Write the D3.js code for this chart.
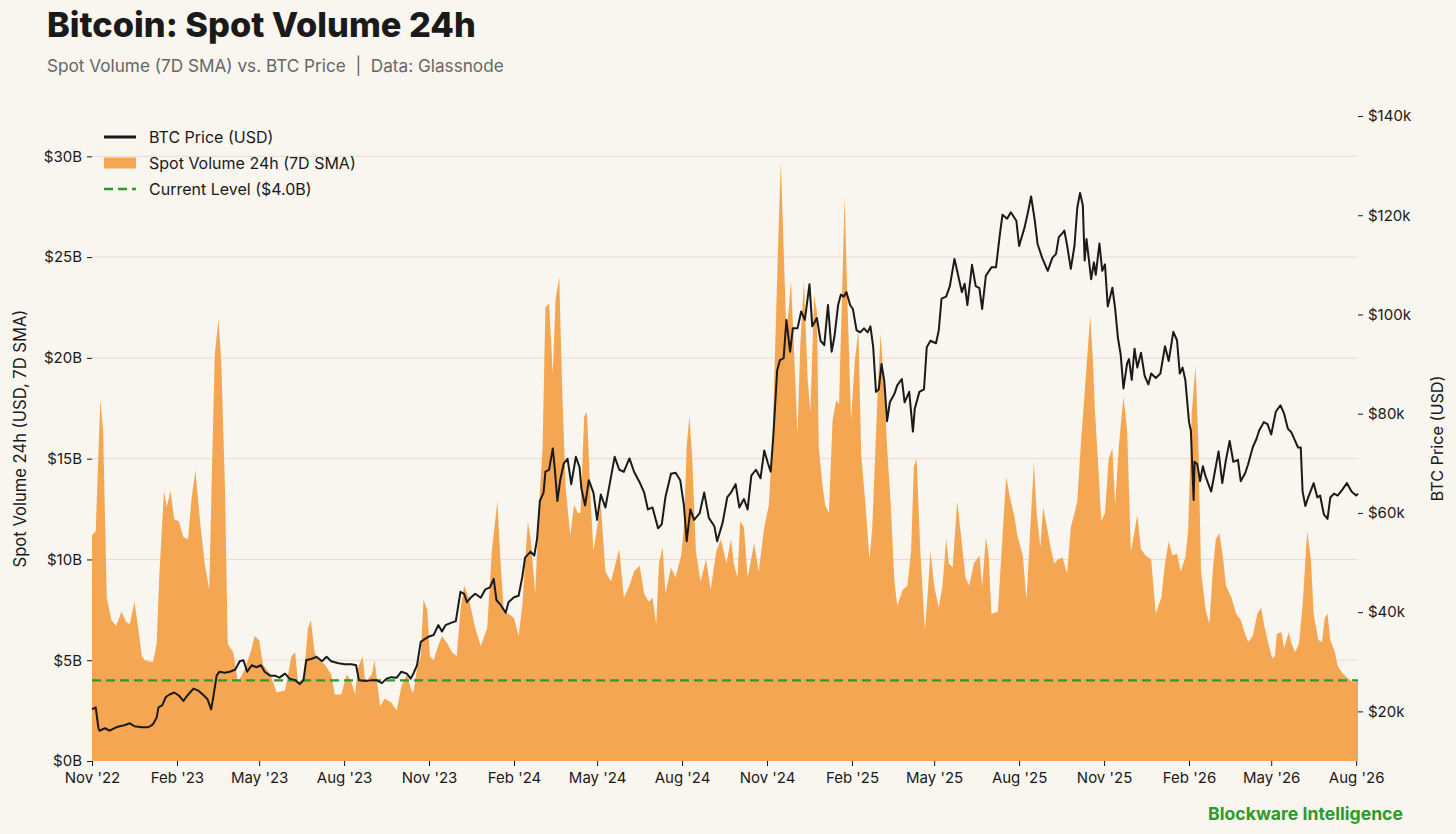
<!DOCTYPE html>
<html>
<head>
<meta charset="utf-8">
<script src="https://cdn.jsdelivr.net/npm/d3@7"></script>
<style>
  body { margin: 0; background: #f9f5ef; }
  svg { display: block; }
  text { font-family: Inter, "Noto Sans", sans-serif; fill: #1a1a1a; }
</style>
</head>
<body>
<svg id="chart"></svg>
<script>
// day offsets are counted from this date
const startDate = "2022-11-01";

// spot volume 24h, 7D SMA, in $B : [day, value]
const volumeSeries = [
  [0, 11.2], [4, 11.4], [9, 17.9], [12, 16.4], [16, 8.1], [21, 7.0], [26, 6.7], [32, 7.4], [37, 6.9], [41, 6.8],
  [46, 7.9], [50, 6.6], [54, 5.2], [57, 5.0], [66, 4.9], [70, 5.8], [73, 9.3], [78, 13.4], [81, 12.6], [85, 13.4],
  [89, 12.0], [94, 11.9], [99, 11.1], [104, 11.0], [108, 13.1], [112, 14.4], [117, 11.9], [122, 9.8], [127, 8.5], [130, 14.6],
  [133, 20.2], [137, 21.9], [140, 19.8], [144, 13.5], [147, 5.8], [153, 5.4], [158, 3.9], [166, 4.6], [173, 5.6], [176, 6.2],
  [181, 6.0], [185, 4.8], [193, 4.3], [200, 3.4], [209, 3.5], [216, 5.2], [220, 5.4], [223, 3.9], [229, 4.1], [234, 6.6],
  [237, 7.0], [241, 5.4], [245, 5.0], [252, 4.8], [259, 4.3], [263, 3.3], [270, 3.3], [276, 4.3], [281, 3.9], [285, 3.3],
  [288, 4.6], [293, 5.2], [296, 3.9], [303, 4.3], [306, 5.0], [312, 2.7], [317, 3.1], [324, 2.9], [330, 2.5], [335, 3.7],
  [341, 4.3], [346, 3.5], [348, 3.4], [352, 4.6], [356, 5.2], [359, 8.0], [363, 7.5], [366, 5.2], [370, 5.0], [374, 5.6],
  [379, 6.2], [385, 5.8], [390, 5.4], [395, 5.2], [399, 7.5], [403, 8.7], [408, 8.1], [415, 6.6], [421, 5.7], [428, 6.6],
  [433, 10.4], [439, 12.9], [442, 10.2], [446, 7.4], [451, 7.3], [457, 7.1], [462, 6.2], [466, 7.7], [472, 11.9], [475, 11.0],
  [480, 8.3], [484, 12.5], [488, 15.6], [491, 22.5], [495, 22.7], [499, 19.2], [502, 22.9], [506, 24.0], [509, 18.7], [513, 13.5],
  [518, 11.2], [522, 12.7], [526, 12.3], [529, 12.3], [533, 17.1], [536, 17.3], [540, 12.9], [543, 10.4], [547, 11.6], [551, 12.7],
  [556, 9.4], [562, 8.9], [567, 9.8], [571, 10.5], [576, 8.1], [582, 8.7], [587, 9.4], [593, 9.7], [598, 8.3], [603, 7.9],
  [607, 8.1], [611, 6.8], [614, 9.8], [618, 10.6], [621, 8.3], [627, 9.6], [632, 9.1], [638, 10.2], [641, 11.6], [644, 15.6],
  [647, 17.1], [650, 15.0], [654, 10.4], [659, 8.9], [665, 10.0], [670, 8.5], [676, 10.4], [681, 11.0], [687, 9.8], [692, 11.0],
  [695, 9.8], [699, 9.1], [702, 11.9], [706, 11.6], [710, 9.1], [713, 9.8], [717, 10.8], [722, 9.4], [728, 11.6], [733, 12.7],
  [737, 16.0], [740, 20.8], [744, 27.1], [746, 29.7], [749, 25.4], [752, 21.2], [755, 22.7], [757, 23.8], [760, 20.6], [764, 16.2],
  [767, 20.6], [771, 23.8], [775, 18.9], [778, 17.3], [782, 23.1], [785, 22.3], [787, 15.6], [791, 13.7], [794, 12.7], [798, 12.3],
  [802, 16.9], [806, 17.9], [809, 17.7], [813, 24.4], [815, 28.0], [818, 22.9], [822, 16.9], [826, 19.8], [830, 21.4], [833, 15.2],
  [838, 12.5], [842, 10.0], [845, 11.6], [851, 18.5], [854, 21.2], [858, 18.5], [861, 15.6], [865, 12.7], [869, 8.9], [872, 7.7],
  [878, 8.5], [883, 8.7], [887, 10.4], [890, 14.6], [893, 15.0], [897, 10.4], [902, 6.5], [905, 8.3], [908, 10.4], [912, 8.7],
  [917, 7.6], [921, 8.7], [925, 11.0], [928, 9.8], [932, 9.6], [937, 12.9], [941, 11.2], [946, 9.1], [950, 8.7], [955, 9.8],
  [961, 10.2], [964, 8.7], [968, 11.1], [971, 10.2], [974, 7.3], [981, 7.4], [985, 10.4], [990, 14.1], [994, 13.1], [999, 12.1],
  [1002, 11.2], [1008, 10.2], [1012, 8.0], [1016, 11.4], [1020, 14.8], [1023, 12.3], [1027, 10.6], [1030, 12.6], [1035, 11.4], [1038, 10.6],
  [1042, 9.8], [1046, 10.0], [1051, 10.1], [1056, 9.3], [1060, 11.6], [1064, 12.3], [1067, 12.9], [1071, 15.8], [1076, 18.9], [1081, 22.1],
  [1084, 19.8], [1086, 17.5], [1090, 14.4], [1093, 11.9], [1097, 12.3], [1101, 15.0], [1105, 15.5], [1108, 12.7], [1112, 15.6], [1117, 18.1],
  [1121, 16.4], [1125, 10.4], [1129, 11.4], [1132, 12.2], [1136, 10.5], [1141, 10.2], [1147, 10.0], [1152, 7.3], [1158, 8.1], [1162, 9.8],
  [1166, 10.9], [1170, 10.2], [1175, 10.3], [1179, 9.4], [1184, 10.1], [1187, 11.4], [1191, 17.3], [1195, 19.6], [1198, 16.0], [1201, 9.4],
  [1206, 7.5], [1210, 6.8], [1214, 9.6], [1217, 11.0], [1221, 11.3], [1225, 10.0], [1228, 8.7], [1234, 8.1], [1239, 7.3], [1244, 7.0],
  [1248, 6.4], [1252, 5.9], [1257, 6.2], [1262, 7.3], [1266, 7.6], [1270, 6.6], [1273, 6.0], [1278, 5.1], [1281, 5.2], [1283, 6.3],
  [1288, 6.4], [1291, 5.6], [1296, 6.4], [1299, 5.8], [1303, 5.4], [1307, 5.8], [1311, 7.7], [1316, 11.4], [1320, 10.0], [1323, 7.3],
  [1328, 6.0], [1332, 5.9], [1335, 7.1], [1338, 7.3], [1341, 6.0], [1346, 5.4], [1349, 4.7], [1355, 4.3], [1360, 4.1], [1366, 3.9],
  [1371, 4.0]
];

// BTC price in $k : [day, value]
const priceSeries = [
  [0, 20.4], [4, 20.8], [7, 16.6], [8, 16.1], [14, 16.6], [19, 16.1], [25, 16.7], [30, 17.0], [35, 17.2], [41, 17.6],
  [46, 17.0], [54, 16.8], [61, 16.8], [66, 17.4], [70, 18.7], [72, 20.8], [76, 21.2], [80, 22.9], [84, 23.4], [89, 23.8],
  [94, 23.2], [99, 22.1], [102, 22.9], [106, 23.8], [110, 24.6], [115, 24.2], [120, 23.4], [125, 22.5], [129, 20.4], [131, 22.5],
  [135, 27.2], [138, 28.0], [144, 27.8], [149, 28.0], [155, 28.4], [160, 30.1], [164, 30.3], [168, 28.0], [173, 29.3], [178, 28.9],
  [183, 29.3], [187, 28.0], [193, 27.2], [198, 27.2], [203, 26.8], [209, 27.6], [214, 26.6], [220, 26.3], [225, 25.5], [229, 26.3],
  [232, 30.3], [238, 30.6], [243, 31.0], [249, 30.1], [254, 31.0], [259, 30.1], [267, 29.7], [274, 29.5], [281, 29.5], [286, 29.3],
  [289, 26.3], [296, 26.1], [303, 26.3], [308, 26.3], [314, 25.7], [319, 26.6], [324, 26.9], [330, 26.8], [335, 28.0], [341, 27.6],
  [345, 26.6], [348, 27.6], [352, 29.3], [356, 34.0], [359, 34.4], [365, 35.1], [370, 35.4], [375, 37.4], [379, 36.1], [383, 37.4],
  [388, 37.8], [394, 38.2], [399, 44.1], [403, 43.7], [406, 42.0], [410, 42.9], [415, 43.7], [421, 42.9], [426, 44.6], [431, 45.0],
  [435, 46.7], [438, 42.4], [442, 41.6], [448, 39.9], [451, 42.0], [457, 43.0], [462, 43.3], [466, 47.1], [469, 51.0], [475, 52.2],
  [479, 51.4], [482, 54.8], [485, 62.4], [489, 64.1], [491, 68.3], [495, 68.7], [499, 73.0], [501, 69.2], [504, 62.4], [507, 66.6],
  [511, 70.0], [515, 70.9], [519, 65.8], [524, 71.3], [528, 69.2], [530, 64.9], [534, 61.5], [538, 66.6], [543, 64.1], [547, 58.6],
  [551, 63.7], [556, 61.1], [561, 66.2], [566, 71.3], [571, 68.7], [576, 68.3], [582, 71.0], [587, 68.3], [593, 66.2], [598, 64.1],
  [602, 60.7], [607, 61.1], [613, 56.9], [617, 57.7], [621, 63.2], [627, 67.9], [632, 68.1], [637, 66.6], [641, 61.5], [644, 54.3],
  [648, 60.7], [652, 58.6], [658, 59.9], [663, 64.1], [668, 59.0], [674, 57.3], [677, 54.3], [683, 58.1], [688, 63.2], [692, 64.1],
  [697, 65.8], [701, 61.1], [706, 62.8], [710, 60.7], [714, 67.5], [719, 68.7], [724, 67.0], [728, 72.6], [732, 70.0], [735, 68.3],
  [738, 76.0], [742, 88.7], [745, 90.8], [749, 91.2], [752, 98.9], [756, 92.5], [759, 97.2], [764, 97.2], [768, 100.6], [772, 98.9],
  [777, 106.1], [780, 97.6], [785, 99.3], [789, 94.7], [793, 93.8], [797, 101.9], [801, 92.5], [804, 95.5], [808, 101.9], [811, 104.0],
  [814, 103.6], [817, 104.5], [821, 101.9], [824, 101.1], [828, 96.8], [832, 96.4], [836, 97.2], [840, 96.4], [843, 97.6], [846, 93.4],
  [849, 84.4], [852, 84.9], [855, 90.0], [858, 86.6], [861, 78.5], [864, 82.3], [869, 84.0], [872, 85.7], [877, 87.0], [880, 82.3],
  [885, 84.4], [889, 76.4], [891, 81.0], [896, 84.4], [901, 84.9], [904, 93.4], [908, 94.7], [914, 94.2], [917, 96.8], [920, 103.2],
  [925, 103.6], [929, 105.7], [934, 111.2], [937, 108.7], [942, 104.5], [945, 106.2], [948, 101.9], [953, 110.0], [957, 105.7], [961, 105.3],
  [964, 101.1], [968, 107.8], [974, 109.5], [979, 109.5], [983, 115.9], [986, 120.1], [991, 119.3], [995, 120.6], [1001, 118.9], [1004, 113.8],
  [1010, 117.6], [1013, 120.1], [1017, 123.8], [1021, 118.9], [1024, 114.2], [1029, 111.4], [1035, 108.8], [1040, 111.4], [1044, 112.2], [1047, 115.6],
  [1051, 116.4], [1053, 116.9], [1056, 113.9], [1060, 109.2], [1064, 113.9], [1067, 121.5], [1070, 124.5], [1073, 122.0], [1075, 110.9], [1077, 115.2],
  [1082, 107.1], [1085, 110.5], [1087, 108.0], [1091, 114.3], [1094, 108.8], [1097, 110.1], [1100, 101.6], [1105, 105.4], [1108, 101.2], [1111, 95.3],
  [1114, 91.9], [1117, 85.1], [1121, 90.2], [1123, 91.0], [1126, 86.8], [1129, 93.1], [1132, 89.3], [1136, 92.3], [1140, 87.6], [1144, 85.9],
  [1147, 88.1], [1152, 87.2], [1157, 88.1], [1162, 93.6], [1166, 90.6], [1171, 96.5], [1175, 94.8], [1178, 88.1], [1181, 89.3], [1184, 86.8],
  [1188, 78.3], [1190, 76.6], [1193, 62.6], [1194, 70.3], [1197, 69.8], [1200, 66.4], [1203, 69.4], [1206, 67.3], [1212, 64.3], [1215, 67.3],
  [1220, 72.4], [1224, 66.0], [1228, 70.7], [1232, 74.5], [1236, 70.3], [1241, 70.7], [1244, 66.4], [1249, 68.1], [1252, 69.8], [1257, 73.2],
  [1261, 74.9], [1264, 76.6], [1269, 78.3], [1273, 77.9], [1277, 75.8], [1282, 80.4], [1287, 81.7], [1291, 80.0], [1295, 77.0], [1299, 76.2],
  [1306, 73.2], [1309, 73.2], [1311, 64.3], [1314, 61.4], [1317, 63.1], [1323, 66.0], [1327, 63.1], [1330, 63.5], [1334, 59.7], [1338, 58.8],
  [1341, 63.1], [1345, 63.9], [1349, 63.5], [1354, 64.7], [1359, 66.0], [1364, 64.3], [1369, 63.5], [1371, 63.9]
];

const currentLevel = 4.0;
const volumeTicks = [0, 5, 10, 15, 20, 25, 30];
const priceTicks = [20, 40, 60, 80, 100, 120, 140];
const monthTicks = ["2022-11-01", "2023-02-01", "2023-05-01", "2023-08-01", "2023-11-01", "2024-02-01",
  "2024-05-01", "2024-08-01", "2024-11-01", "2025-02-01", "2025-05-01", "2025-08-01", "2025-11-01",
  "2026-02-01", "2026-05-01", "2026-08-01"];
const legendLabels = ["BTC Price (USD)", "Spot Volume 24h (7D SMA)", "Current Level ($4.0B)"];

const W = 1456, H = 834;
const margin = { top: 116, right: 98, bottom: 73, left: 92 };
const orange = "#f5a652", green = "#2b9b2b", ink = "#1a1a1a", grid = "#e2ddd4";

const svg = d3.select("#chart").attr("width", W).attr("height", H);
svg.append("rect").attr("width", W).attr("height", H).attr("fill", "#f9f5ef");

const parse = d3.timeParse("%Y-%m-%d");
const t0 = parse(startDate);
const toDate = d => d3.timeDay.offset(t0, d);

const x = d3.scaleTime()
  .domain([t0, toDate(volumeSeries[volumeSeries.length - 1][0])])
  .range([margin.left, W - margin.right]);
const yVol = d3.scaleLinear().domain([0, 32]).range([H - margin.bottom, margin.top]);
const yPrice = d3.scaleLinear().domain([10, 140]).range([H - margin.bottom, margin.top]);

// fit a text element to a target width
function fit(sel, width) {
  const w = sel.node().getComputedTextLength();
  const fs = +sel.attr("font-size");
  sel.attr("font-size", fs * width / w);
}

// grid
svg.append("g").selectAll("line")
  .data(volumeTicks.slice(1))
  .enter().append("line")
  .attr("x1", x.range()[0]).attr("x2", x.range()[1])
  .attr("y1", d => yVol(d)).attr("y2", d => yVol(d))
  .attr("stroke", grid).attr("stroke-width", 1);

// volume area
svg.append("path")
  .datum(volumeSeries)
  .attr("fill", orange)
  .attr("d", d3.area()
    .x(d => x(toDate(d[0])))
    .y0(yVol(0))
    .y1(d => yVol(d[1])));

// current level
svg.append("line")
  .attr("x1", x.range()[0]).attr("x2", x.range()[1])
  .attr("y1", yVol(currentLevel)).attr("y2", yVol(currentLevel))
  .attr("stroke", green).attr("stroke-width", 2.2)
  .attr("stroke-dasharray", "9,5");

// price line
svg.append("path")
  .datum(priceSeries)
  .attr("fill", "none")
  .attr("stroke", ink)
  .attr("stroke-width", 2)
  .attr("stroke-linejoin", "round")
  .attr("d", d3.line()
    .x(d => x(toDate(d[0])))
    .y(d => yPrice(d[1])));

// axes
function styleAxis(g) {
  g.select(".domain").remove();
  g.selectAll(".tick line").attr("stroke", ink);
  g.selectAll(".tick text").attr("font-size", 15).attr("fill", ink);
}

svg.append("g")
  .attr("transform", `translate(${margin.left},0)`)
  .call(d3.axisLeft(yVol).tickValues(volumeTicks).tickSize(5).tickPadding(5).tickFormat(d => `$${d}B`))
  .call(styleAxis);

svg.append("g")
  .attr("transform", `translate(${W - margin.right},0)`)
  .call(d3.axisRight(yPrice).tickValues(priceTicks).tickSize(5).tickPadding(5).tickFormat(d => `$${d}k`))
  .call(styleAxis);

const fmtMonth = d3.timeFormat("%b '%y");
svg.append("g")
  .attr("transform", `translate(0,${H - margin.bottom})`)
  .call(d3.axisBottom(x).tickValues(monthTicks.map(parse)).tickSize(5).tickPadding(6).tickFormat(fmtMonth))
  .call(styleAxis);

// axis titles
svg.append("text")
  .attr("transform", `translate(20,${(margin.top + H - margin.bottom) / 2}) rotate(-90)`)
  .attr("text-anchor", "middle").attr("dominant-baseline", "central")
  .attr("font-size", 15)
  .text("Spot Volume 24h (USD, 7D SMA)")
  .call(fit, 258);

svg.append("text")
  .attr("transform", `translate(1437,${(margin.top + H - margin.bottom) / 2}) rotate(-90)`)
  .attr("text-anchor", "middle").attr("dominant-baseline", "central")
  .attr("font-size", 15)
  .text("BTC Price (USD)")
  .call(fit, 126);

// titles
svg.append("text")
  .attr("x", 47).attr("y", 37)
  .attr("font-size", 33).attr("font-weight", 800)
  .text("Bitcoin: Spot Volume 24h")
  .call(fit, 429);

svg.append("text")
  .attr("x", 47).attr("y", 72)
  .attr("font-size", 16)
  .attr("xml:space", "preserve")
  .style("fill", "#666")
  .text("Spot Volume (7D SMA) vs. BTC Price  |  Data: Glassnode")
  .call(fit, 457);

svg.append("text")
  .attr("x", 1403).attr("y", 820)
  .attr("text-anchor", "end")
  .attr("font-size", 17).attr("font-weight", 700)
  .style("fill", green)
  .text("Blockware Intelligence")
  .call(fit, 195);

// legend
const legend = svg.append("g").attr("transform", "translate(104,137)");
const rowH = 26;
legend.append("line").attr("x1", 0).attr("x2", 32).attr("y1", 0).attr("y2", 0)
  .attr("stroke", ink).attr("stroke-width", 3);
legend.append("rect").attr("x", 0).attr("y", rowH - 5.5).attr("width", 32).attr("height", 11)
  .attr("fill", orange);
legend.append("line").attr("x1", 0).attr("x2", 32).attr("y1", 2 * rowH).attr("y2", 2 * rowH)
  .attr("stroke", green).attr("stroke-width", 2.5).attr("stroke-dasharray", "9,5");
legend.selectAll("text.lab")
  .data(legendLabels)
  .enter().append("text")
  .attr("class", "lab")
  .attr("x", 45).attr("y", (d, i) => i * rowH)
  .attr("dominant-baseline", "central")
  .attr("font-size", 16)
  .text(d => d);
</script>
</body>
</html>
